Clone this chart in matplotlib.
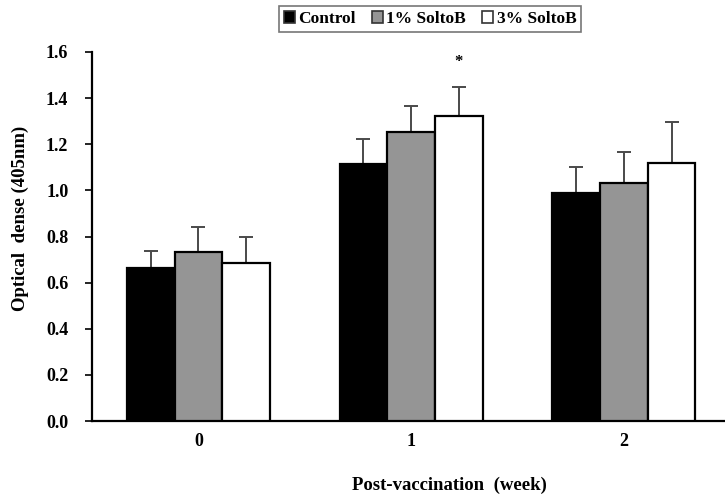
import numpy as np
import matplotlib.pyplot as plt
from matplotlib.patches import Patch

plt.rcParams['font.family'] = ['Liberation Serif', 'DejaVu Serif']
plt.rcParams['font.weight'] = 'bold'
plt.rcParams['axes.labelweight'] = 'bold'

weeks = ['0', '1', '2']
groups = ['Control', '1% SoltoB', '3% SoltoB']
means = [
    [0.663, 1.114, 0.989],   # Control
    [0.733, 1.253, 1.032],   # 1% SoltoB
    [0.685, 1.323, 1.119],   # 3% SoltoB
]
errors = [
    [0.074, 0.109, 0.113],
    [0.107, 0.113, 0.134],
    [0.115, 0.125, 0.178],
]
fills = ['black', '#959595', 'white']
star_pos = (1, 1.557)  # significant difference, week 1 / 3% SoltoB

fig = plt.figure(figsize=(7.25, 5.01), dpi=100)
ax = fig.add_axes([92 / 725, (501 - 421) / 501, (725 - 92) / 725, (421 - 52) / 501])

x = np.arange(len(weeks))
w = 0.224
for i, (g, m, e, c) in enumerate(zip(groups, means, errors, fills)):
    pos = x + (i - 1) * w
    ax.bar(pos, m, width=w, color=c, edgecolor='black', linewidth=1.6, zorder=3, label=g)
    ax.errorbar(pos, m, yerr=[np.zeros(len(e)), e], fmt='none', ecolor='#4a4a4a',
                elinewidth=1.4, capsize=5, capthick=1.4, zorder=2)

ax.text(star_pos[0] + w, star_pos[1], '*', ha='center', va='center', fontsize=12,
        fontweight='bold')

ax.set_xlim(-0.5, 2.475)
ax.set_ylim(0, 1.6)
ax.set_yticks(np.arange(0, 1.61, 0.2))
ax.set_yticklabels([f'{v:.1f}' for v in np.arange(0, 1.61, 0.2)], fontsize=13)
ax.set_xticks(x)
ax.set_xticklabels(weeks, fontsize=13)
ax.tick_params(axis='x', length=0, pad=9)
ax.tick_params(axis='y', direction='out', length=5, width=1.2, pad=12)
for s in ['top', 'right']:
    ax.spines[s].set_visible(False)
for s in ['left', 'bottom']:
    ax.spines[s].set_linewidth(1.6)

ax.set_ylabel('Optical  dense (405nm)', fontsize=13.5)
ax.yaxis.set_label_coords(-0.099, 0.55)
ax.set_xlabel('Post-vaccination  (week)', fontsize=13.5)
ax.xaxis.set_label_coords(0.564, -0.15)

handles = [Patch(facecolor=c, edgecolor='#333333', linewidth=1.2) for c in fills]
leg = fig.legend(handles, groups, loc='center', bbox_to_anchor=(430 / 725, 1 - 19 / 501),
                 ncol=3, frameon=True, fancybox=False, edgecolor='#555555', fontsize=12.5,
                 handlelength=0.65, handleheight=0.65, handletextpad=0.2, columnspacing=0.9,
                 borderpad=0.3)
leg.get_frame().set_linewidth(1.2)

fig.savefig('out.png', dpi=100)
